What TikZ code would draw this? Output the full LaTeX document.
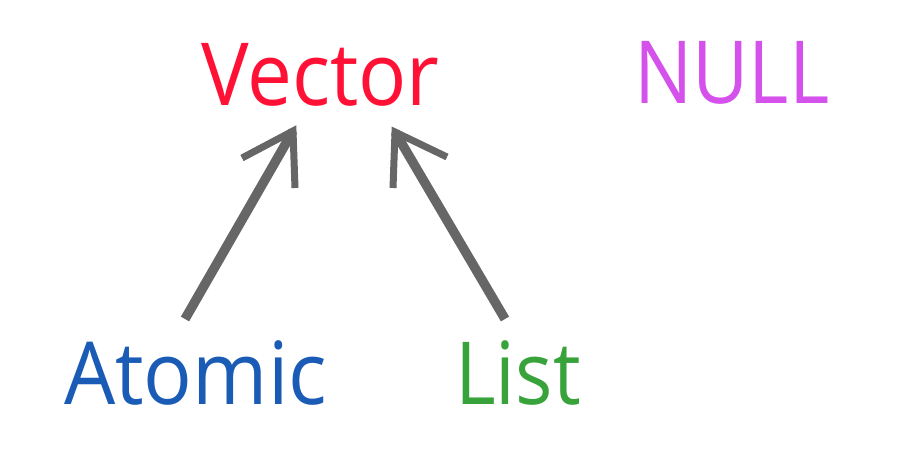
\documentclass[tikz,border=0pt]{standalone}
\usepackage{fontspec}
\setmainfont{Open Sans}
\definecolor{cvec}{HTML}{FF1035}
\definecolor{cnull}{HTML}{D452EB}
\definecolor{catom}{HTML}{195BB5}
\definecolor{clist}{HTML}{38A33B}
\definecolor{carrow}{HTML}{666666}
\newcommand{\narrow}[2]{\scalebox{#1}[1]{#2}}
\begin{document}
\begin{tikzpicture}[x=1pt,y=-1pt,
  lbl/.style={inner sep=0pt, anchor=base west, font=\fontsize{87}{90}\selectfont},
  shaft/.style={draw=carrow, line width=9.5pt},
  barb/.style={draw=carrow, line width=7pt, line join=miter}]
\useasboundingbox (0,0) rectangle (911,450);
\node[lbl, text=cvec] (vector) at (201,105) {\narrow{0.92}{Vector}};
\node[lbl, text=cnull] (null) at (634,103) {\narrow{0.89}{NULL}};
\node[lbl, text=catom] (atomic) at (64,404) {\narrow{0.93}{Atomic}};
\node[lbl, text=clist] (list) at (455,404) {\narrow{0.9}{List}};
% left arrow
\coordinate (ltail) at (185,319);
\coordinate (ltip) at (293,131);
\coordinate (lb1) at (242,158);
\coordinate (lb2) at (295,188);
\draw[shaft] (ltail) -- (ltip);
\draw[barb] (lb1) -- (ltip) -- (lb2);
% right arrow
\coordinate (rtail) at (505,319);
\coordinate (rtip) at (395,132);
\coordinate (rb1) at (393,188);
\coordinate (rb2) at (447,157);
\draw[shaft] (rtail) -- (rtip);
\draw[barb] (rb1) -- (rtip) -- (rb2);
\end{tikzpicture}
\end{document}
